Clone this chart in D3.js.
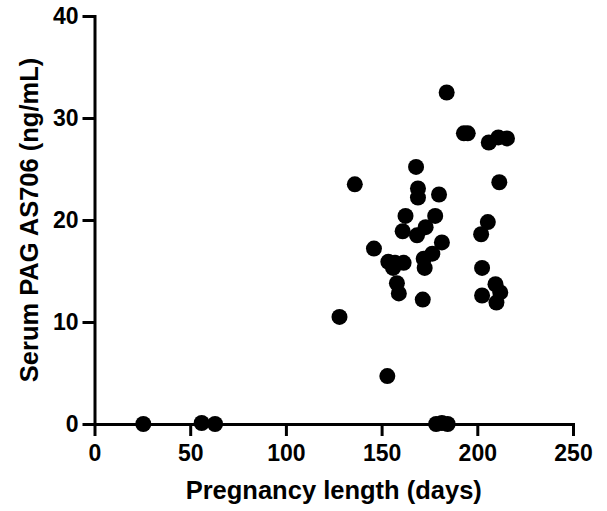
<!DOCTYPE html>
<html lang="en">
<head>
    <meta charset="UTF-8">
    <title>Serum PAG AS706 vs Pregnancy length</title>

    <style>

        html, body
        {
            margin: 0;
            padding: 0;
            width: 607px;
            height: 511px;
            overflow: hidden;
            background: #fff;
        }

        svg
        {
            display: block;
        }

        .tick text
        {
            font-family: "Liberation Sans", Arial, sans-serif;
            font-weight: bold;
            font-size: 23px;
            fill: #000;
        }

        .tick line, .domain
        {
            stroke: #000;
            stroke-width: 3px;
        }

        .axis-label
        {
            font-family: "Liberation Sans", Arial, sans-serif;
            font-weight: bold;
            font-size: 25.5px;
            fill: #000;
        }

    </style>

    <script src="https://d3js.org/d3.v7.min.js"></script>
    <script>

        // Ticks on both axes
        const xTicks = [0, 50, 100, 150, 200, 250];
        const yTicks = [0, 10, 20, 30, 40];

        // Pregnancy length (days) for each animal
        const days = [
            25.5, 56, 63, 178.5, 181.5, 184.5,
            128, 136, 146, 153,
            153.5, 157, 161.5, 156, 158, 159,
            161, 162.5, 168, 169, 169,
            168.5, 173, 178, 172, 172.5, 176.5, 171.5,
            180, 181.5, 184,
            193, 195, 206, 211, 215.5, 211.5,
            205.5, 202, 202.5, 209.5, 212, 202.5, 210
        ];

        // Serum PAG AS706 (ng/mL), same order as days
        const pag = [
            0, 0.1, 0, 0, 0.1, 0,
            10.5, 23.5, 17.2, 4.7,
            15.9, 15.8, 15.8, 15.3, 13.8, 12.8,
            18.9, 20.4, 25.2, 23.1, 22.2,
            18.5, 19.3, 20.4, 16.2, 15.3, 16.7, 12.2,
            22.5, 17.8, 32.5,
            28.5, 28.5, 27.6, 28.1, 28.0, 23.7,
            19.8, 18.6, 15.3, 13.7, 12.9, 12.6, 11.9
        ];

        const xLabel = 'Pregnancy length (days)';
        const yLabel = 'Serum PAG AS706 (ng/mL)';

        function draw() {

            const points = days.map(function (d, i) {
                return { x: d, y: pag[i] };
            });

            const width = 607;
            const height = 511;
            const margin = { left: 94.5, right: 34, top: 16, bottom: 87 };
            const r = 8;

            const innerWidth = width - margin.left - margin.right;
            const innerHeight = height - margin.top - margin.bottom;

            const svg = d3.select('svg');

            const xScale = d3.scaleLinear()
                .domain([0, 250])
                .range([0, innerWidth]);

            const yScale = d3.scaleLinear()
                .domain([0, 40])
                .range([innerHeight, 0]);

            const group = svg.append('g')
                .attr('transform', 'translate(' + margin.left + ' ' + margin.top + ')');

            const xAxisG = group.append('g')
                .attr('transform', 'translate(0 ' + innerHeight + ')');

            const yAxisG = group.append('g');

            const xAxis = d3.axisBottom(xScale)
                .tickValues(xTicks)
                .tickSize(12)
                .tickSizeOuter(0)
                .tickPadding(9);

            const yAxis = d3.axisLeft(yScale)
                .tickValues(yTicks)
                .tickSize(12)
                .tickSizeOuter(0)
                .tickPadding(4);

            xAxisG.call(xAxis);
            yAxisG.call(yAxis);

            group.selectAll('.domain')
                .attr('stroke-linecap', 'square');

            // Axis titles
            svg.append('text')
                .attr('class', 'axis-label')
                .attr('x', margin.left + innerWidth / 2)
                .attr('y', 499)
                .style('text-anchor', 'middle')
                .text(xLabel);

            svg.append('text')
                .attr('class', 'axis-label')
                .attr('transform', 'translate(38 ' + (margin.top + innerHeight / 2) + ') rotate(-90)')
                .style('text-anchor', 'middle')
                .text(yLabel);

            // Dots drawn over the axes
            group.selectAll('circle')
                .data(points)
                .enter()
                .append('circle')
                .attr('cx', function (d) { return xScale(d.x); })
                .attr('cy', function (d) { return yScale(d.y); })
                .attr('r', r)
                .attr('fill', '#000');
        }

        document.addEventListener('DOMContentLoaded', draw);

    </script>
</head>
<body><svg width="607" height="511"></svg></body>
</html>
